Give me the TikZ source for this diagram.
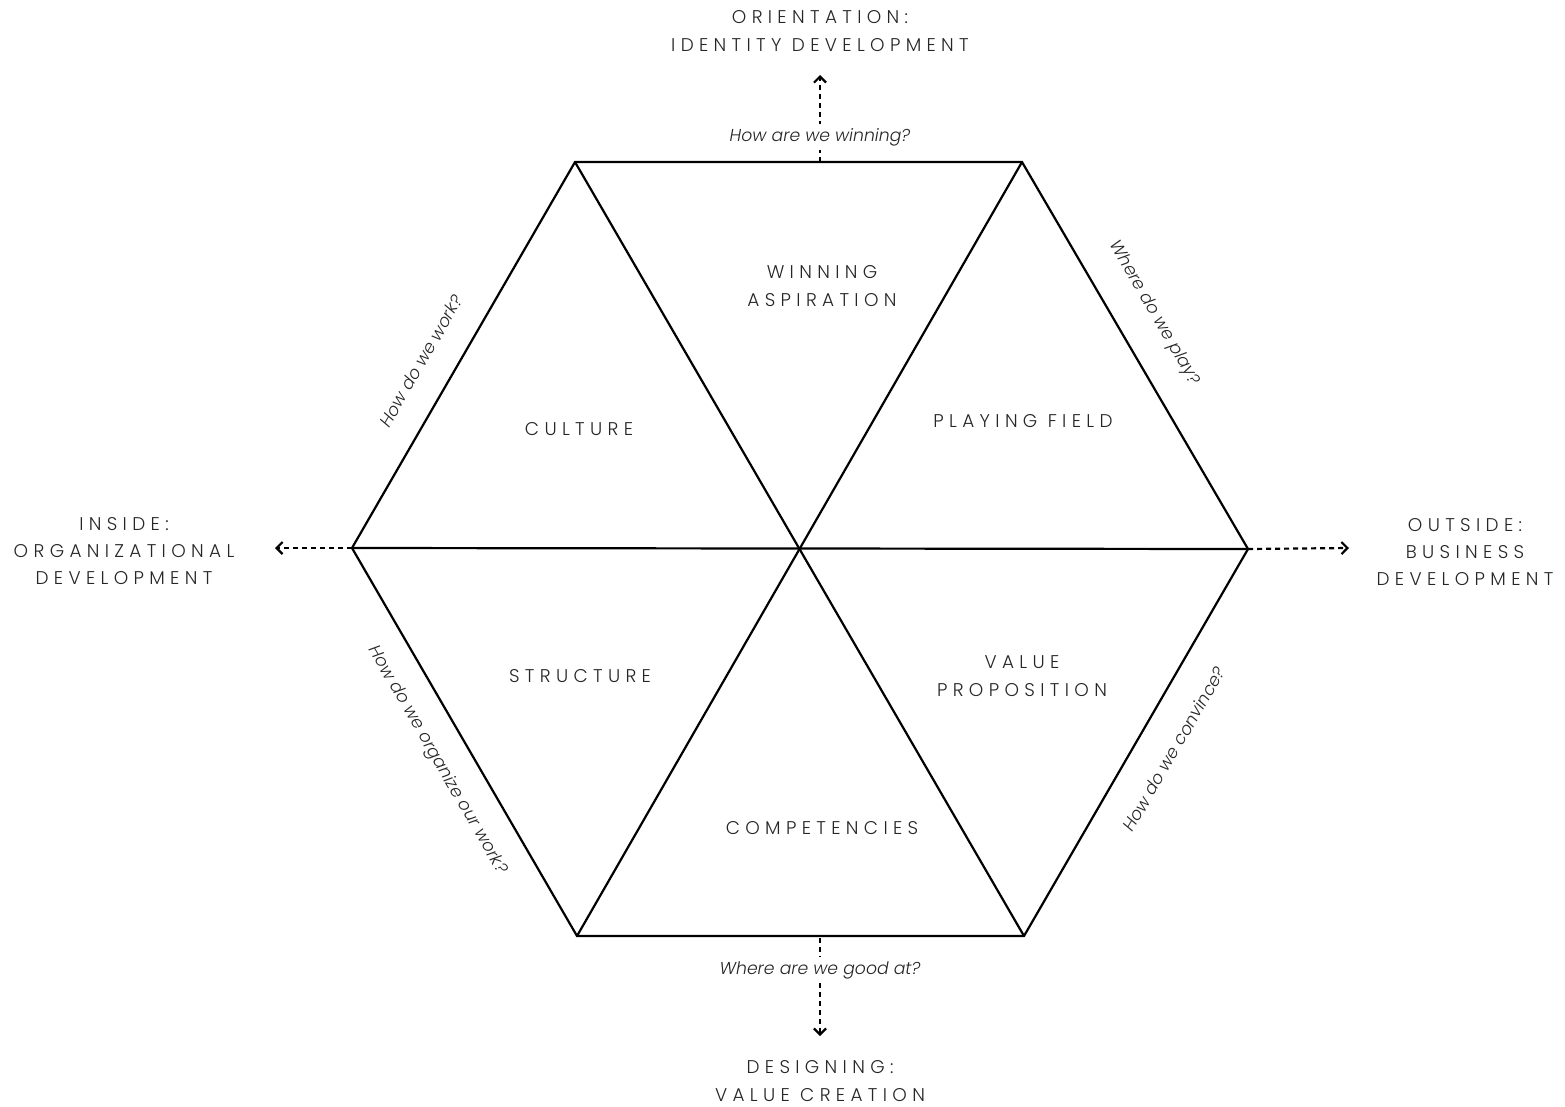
\documentclass[tikz,border=0pt]{standalone}
\usepackage{fontspec}
\setmainfont{Poppins}
\newfontfamily\capsfont{Poppins Light}[LetterSpace=29]
\newfontfamily\qfont{Poppins Light Italic}
\usetikzlibrary{arrows.meta}
\begin{document}
\begin{tikzpicture}[x=1bp,y=-1bp,
  edge/.style={line width=2.2bp, line join=miter},
  axis/.style={line width=2.2bp, dash pattern=on 5bp off 4bp, -{Straight Barb[length=6bp,width=12bp,line width=2.2bp]}},
  caps/.style={font=\fontsize{18.5}{27.5}\capsfont, align=center, text=black!85, inner sep=0pt},
  quest/.style={font=\fontsize{17.3}{20}\qfont, text=black!85, inner sep=2bp},
  qbg/.style={quest, fill=white, inner sep=4bp}]
\useasboundingbox (0,0) rectangle (1565,1106);
% vertices
\coordinate (TL) at (575,162);
\coordinate (TR) at (1022,162);
\coordinate (R) at (1248,549);
\coordinate (BR) at (1024,936);
\coordinate (BL) at (577,936);
\coordinate (L) at (352,548);
\coordinate (C) at (800,548);
\coordinate (Ttop) at (820,162);
\coordinate (Tbot) at (820,938);
% axes
\coordinate (Aup) at (820,75);
\coordinate (Adown) at (820,1036);
\coordinate (Aleft) at (275,548);
\coordinate (Aright) at (1349,548);
\draw[axis] (Ttop) -- (Aup);
\draw[axis] (Tbot) -- (Adown);
\draw[axis] (L) -- (Aleft);
\draw[axis] (R) -- (Aright);
\node[qbg] (qtop) at (820,137) {How are we winning?};
\node[qbg] (qbot) at (820,970) {Where are we good at?};
% hexagon
\draw[edge] (TL) -- (TR) -- (R) -- (BR) -- (BL) -- (L) -- cycle;
\draw[edge] (TL) -- (BR);
\draw[edge] (TR) -- (BL);
\draw[edge] (L) -- (R);
% segment labels
\node[caps] (wa) at (822,286) {WINNING\\ASPIRATION};
\node[caps] (cu) at (579,429) {CULTURE};
\node[caps] (pf) at (1023,421) {PLAYING FIELD};
\node[caps] (st) at (580,676) {STRUCTURE};
\node[caps] (vp) at (1022,676) {VALUE\\PROPOSITION};
\node[caps] (co) at (822,828) {COMPETENCIES};
% directions
\node[caps] (o) at (820,31) {ORIENTATION:\\IDENTITY DEVELOPMENT};
\node[caps] (d) at (820,1081) {DESIGNING:\\VALUE CREATION};
\node[caps] (i) at (124,551) {INSIDE:\\ORGANIZATIONAL\\DEVELOPMENT};
\node[caps] (ou) at (1465,552) {OUTSIDE:\\BUSINESS\\DEVELOPMENT};
% side questions
\node[quest, rotate=60] (q1) at (421,361) {How do we work?};
\node[quest, rotate=-60] (q2) at (1154,313) {Where do we play?};
\node[quest, rotate=-60] (q3) at (437,760) {How do we organize our work?};
\node[quest, rotate=60] (q4) at (1174,749) {How do we convince?};
\end{tikzpicture}
\end{document}
